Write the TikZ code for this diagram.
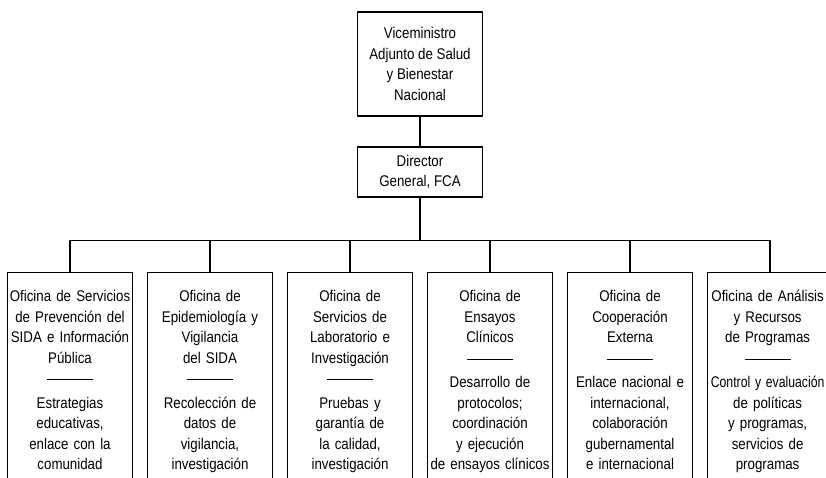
\documentclass[tikz,border=0pt]{standalone}
\usepackage{graphicx}
\usepackage{fontspec}
\setmainfont{Liberation Sans}[FakeStretch=0.86]
\usetikzlibrary{positioning}

\newcommand\sepline{\\\rule[2.4pt]{1.15cm}{0.8pt}\\[2.8pt]}

\begin{document}
\begin{tikzpicture}[x=0.025cm, y=0.025cm, >=latex,
    every node/.style={font=\fontsize{11}{14.6}\selectfont},
    box/.style={draw, line width=0.8pt, minimum width=3.125cm, align=center, inner sep=0pt},
    txt/.style={align=center, text width=3.4cm, inner sep=0pt},
    link/.style={line width=0.8pt}]
                    \useasboundingbox (0,0) rectangle (826,-478);
                    \clip (0,0) rectangle (826,-478);

                    % Head
                    \node[box, minimum height=2.6cm] (vm) at (420,-64) {Viceministro\\Adjunto de Salud\\y Bienestar\\Nacional};
                    \node[box, minimum height=1.25cm] (dg) at (420,-172) {Director\\General, FCA};
                    \draw[link] (vm) -- (dg);

                    % Offices
                    \foreach \i in {1,...,6}
                    {
                        \node[box, minimum height=6cm, anchor=north] (of\i) at ({140*\i-70},-272) {};
                        \draw[link] (dg.south) -- ++(0,-43) -| (of\i.north);
                    }

                    % Office texts
                    \node[txt, below=0.45cm of of1.north] (t1) {Oficina de Servicios\\de Prevención del\\SIDA e Información\\Pública\sepline Estrategias\\educativas,\\enlace con la\\comunidad};
                    \node[txt, below=0.45cm of of2.north] (t2) {Oficina de\\Epidemiología y\\Vigilancia\\del SIDA\sepline Recolección de\\datos de\\vigilancia,\\investigación};
                    \node[txt, below=0.45cm of of3.north] (t3) {Oficina de\\Servicios de\\Laboratorio e\\Investigación\sepline Pruebas y\\garantía de\\la calidad,\\investigación};
                    \node[txt, below=0.45cm of of4.north] (t4) {Oficina de\\Ensayos\\Clínicos\sepline Desarrollo de\\protocolos;\\coordinación\\y ejecución\\de ensayos clínicos};
                    \node[txt, below=0.45cm of of5.north] (t5) {Oficina de\\Cooperación\\Externa\sepline Enlace nacional e\\internacional,\\colaboración\\gubernamental\\e internacional};
                    \node[txt, below=0.45cm of of6.north, xshift=-0.06cm] (t6) {Oficina de Análisis\\y Recursos\\de Programas\sepline \scalebox{0.92}[1]{Control y evaluación}\\de políticas\\y programas,\\servicios de\\programas};
                \end{tikzpicture}
\end{document}
